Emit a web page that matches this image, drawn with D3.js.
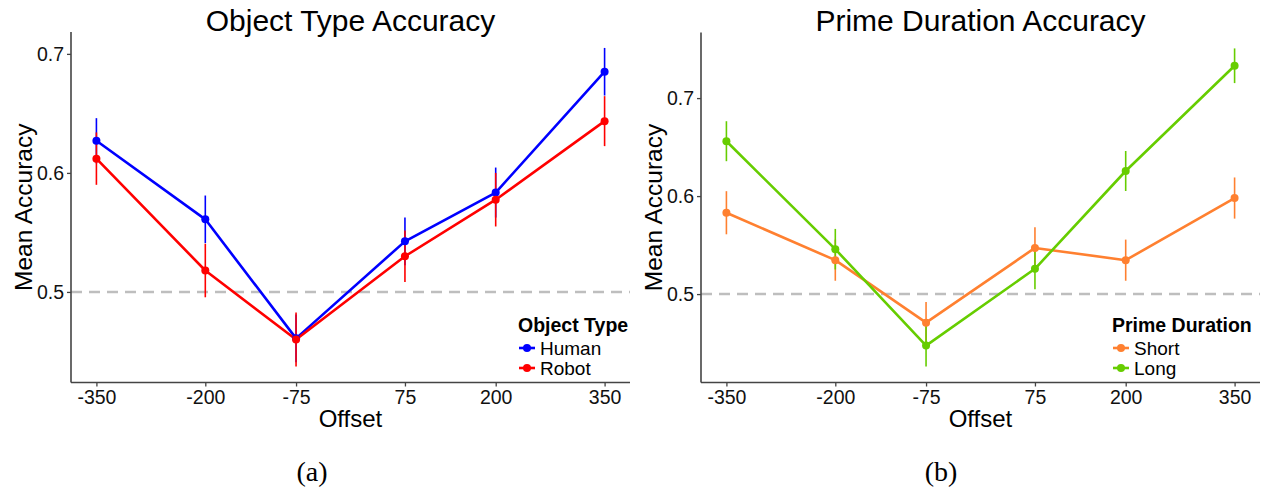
<!DOCTYPE html>
<html>
<head>
<meta charset="utf-8">
<script src="https://cdn.jsdelivr.net/npm/d3@7"></script>
<style>
  html, body { margin: 0; padding: 0; background: #fff; }
  svg { display: block; }
</style>
</head>
<body>
<svg id="chart" width="1270" height="491"></svg>
<script>
// ---------- data ----------
const offsets = [-350, -200, -75, 75, 200, 350];
const xTickLabels = ["-350", "-200", "-75", "75", "200", "350"];
const yTicks = [0.5, 0.6, 0.7];

const humanMean = [0.627, 0.561, 0.461, 0.5425, 0.5835, 0.685];
const humanSE   = [0.019, 0.020, 0.020, 0.020, 0.021, 0.020];
const robotMean = [0.612, 0.518, 0.460, 0.530, 0.5775, 0.6435];
const robotSE   = [0.022, 0.0225, 0.0227, 0.0217, 0.0225, 0.021];

const shortMean = [0.583, 0.5346, 0.4708, 0.5471, 0.5346, 0.598];
const shortSE   = [0.022, 0.021, 0.021, 0.021, 0.021, 0.021];
const longMean  = [0.656, 0.5458, 0.4474, 0.5258, 0.6256, 0.733];
const longSE    = [0.0204, 0.0207, 0.0214, 0.021, 0.0204, 0.0177];

const panelTitles = ["Object Type Accuracy", "Prime Duration Accuracy"];
const legendTitles = ["Object Type", "Prime Duration"];
const seriesNames = [["Human", "Robot"], ["Short", "Long"]];
const captions = ["(a)", "(b)"];
const referenceLine = 0.5;

// ---------- layout ----------
const svg = d3.select("#chart");
const font = "'Liberation Sans', Arial, Helvetica, sans-serif";

const panels = [
  {
    left: 71, right: 630, top: 32, bottom: 382.5,
    title: panelTitles[0], legendTitle: legendTitles[0],
    series: [
      { name: seriesNames[0][0], mean: humanMean, se: humanSE, color: "#0000FF" },
      { name: seriesNames[0][1], mean: robotMean, se: robotSE, color: "#FF0000" }
    ],
    legendX: 518, legendTitleY: 332, caption: captions[0], captionX: 312
  },
  {
    left: 701, right: 1260, top: 32.5, bottom: 382.5,
    title: panelTitles[1], legendTitle: legendTitles[1],
    series: [
      { name: seriesNames[1][0], mean: shortMean, se: shortSE, color: "#FF8030" },
      { name: seriesNames[1][1], mean: longMean, se: longSE, color: "#66CD00" }
    ],
    legendX: 1112, legendTitleY: 332, caption: captions[1], captionX: 941
  }
];

panels.forEach(p => {
  const g = svg.append("g");

  // scales (ggplot-like 5% expansion)
  const xExp = (350 - (-350)) * 0.05;
  const x = d3.scaleLinear().domain([-350 - xExp, 350 + xExp]).range([p.left, p.right]);

  let lo = Infinity, hi = -Infinity;
  p.series.forEach(s => s.mean.forEach((m, i) => {
    lo = Math.min(lo, m - s.se[i]); hi = Math.max(hi, m + s.se[i]);
  }));
  const yExp = (hi - lo) * 0.05;
  const y = d3.scaleLinear().domain([lo - yExp, hi + yExp]).range([p.bottom, p.top]);

  // reference dashed line
  g.append("line")
    .attr("x1", p.left).attr("x2", p.right)
    .attr("y1", y(referenceLine)).attr("y2", y(referenceLine))
    .attr("stroke", "#BEBEBE").attr("stroke-width", 2.5)
    .attr("stroke-dasharray", "11,7");

  // axes
  const xAxis = d3.axisBottom(x).tickValues(offsets)
    .tickFormat((d, i) => xTickLabels[i]).tickSize(4).tickPadding(4).tickSizeOuter(0);
  const yAxis = d3.axisLeft(y).tickValues(yTicks)
    .tickFormat(d3.format(".1f")).tickSize(4).tickPadding(3).tickSizeOuter(0);

  const gx = g.append("g").attr("transform", `translate(0,${p.bottom})`).call(xAxis);
  const gy = g.append("g").attr("transform", `translate(${p.left},0)`).call(yAxis);
  [gx, gy].forEach(a => {
    a.select(".domain").attr("stroke", "#444").attr("stroke-width", 1.6);
    a.selectAll(".tick line").attr("stroke", "#444").attr("stroke-width", 1.3);
    a.selectAll(".tick text").attr("fill", "#111")
      .style("font-family", font).style("font-size", "19.5px");
  });
  gx.select(".domain").attr("d", `M${p.left},0H${p.right}`);
  gy.select(".domain").attr("d", `M0,${p.bottom}V${p.top}`);

  // error bars
  p.series.forEach(s => {
    g.append("g").selectAll("line").data(offsets).join("line")
      .attr("x1", d => x(d)).attr("x2", d => x(d))
      .attr("y1", (d, i) => y(s.mean[i] - s.se[i]))
      .attr("y2", (d, i) => y(s.mean[i] + s.se[i]))
      .attr("stroke", s.color).attr("stroke-width", 1.6);
  });
  // lines
  const line = d3.line().x(d => x(d[0])).y(d => y(d[1]));
  p.series.forEach(s => {
    g.append("path")
      .datum(offsets.map((o, i) => [o, s.mean[i]]))
      .attr("d", line).attr("fill", "none")
      .attr("stroke", s.color).attr("stroke-width", 2.6)
      .attr("stroke-linejoin", "round");
  });
  // points
  p.series.forEach(s => {
    g.append("g").selectAll("circle").data(offsets).join("circle")
      .attr("cx", d => x(d)).attr("cy", (d, i) => y(s.mean[i]))
      .attr("r", 4).attr("fill", s.color);
  });

  // titles
  const cx = (p.left + p.right) / 2;
  g.append("text").attr("x", cx).attr("y", 30.5)
    .attr("text-anchor", "middle").attr("fill", "#000")
    .style("font-family", font).style("font-size", "30px")
    .text(p.title);
  g.append("text").attr("x", cx).attr("y", 427)
    .attr("text-anchor", "middle").attr("fill", "#000")
    .style("font-family", font).style("font-size", "24px")
    .text("Offset");
  g.append("text")
    .attr("transform", `translate(${p.left - 39},${(p.top + p.bottom) / 2}) rotate(-90)`)
    .attr("text-anchor", "middle").attr("fill", "#000")
    .style("font-family", font).style("font-size", "24.5px")
    .text("Mean Accuracy");

  // legend
  const lg = g.append("g");
  lg.append("text").attr("x", p.legendX).attr("y", p.legendTitleY)
    .attr("fill", "#000").style("font-family", font)
    .style("font-size", "19.5px").style("font-weight", "bold")
    .text(p.legendTitle);
  p.series.forEach((s, k) => {
    const ky = p.legendTitleY + 16 + k * 20;
    lg.append("line").attr("x1", p.legendX + 1).attr("x2", p.legendX + 17)
      .attr("y1", ky).attr("y2", ky)
      .attr("stroke", s.color).attr("stroke-width", 2.6);
    lg.append("circle").attr("cx", p.legendX + 9).attr("cy", ky).attr("r", 4)
      .attr("fill", s.color);
    lg.append("text").attr("x", p.legendX + 22).attr("y", ky)
      .attr("dy", "0.36em").attr("fill", "#000")
      .style("font-family", font).style("font-size", "19px")
      .text(s.name);
  });

  // caption
  g.append("text").attr("x", p.captionX).attr("y", 481)
    .attr("text-anchor", "middle").attr("fill", "#000")
    .style("font-family", "'Liberation Serif', 'Times New Roman', serif")
    .style("font-size", "28px")
    .text(p.caption);
});
</script>
</body>
</html>
